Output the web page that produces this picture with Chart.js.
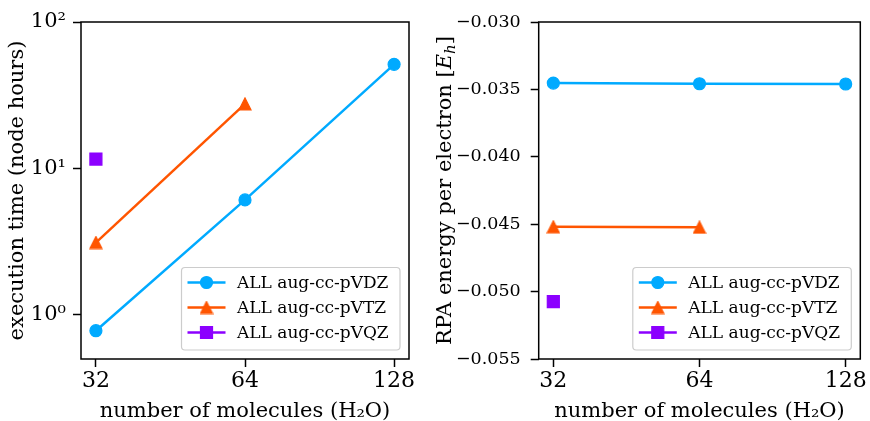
<!DOCTYPE html>
<html><head><meta charset="utf-8">
<script src="https://cdn.jsdelivr.net/npm/chart.js@4/dist/chart.umd.min.js"></script>
<style>
html,body{margin:0;padding:0;background:#fff;}
#wrap{position:relative;width:870px;height:421px;overflow:hidden;}
.box{position:absolute;top:0;width:435px;height:421px;}
canvas{display:block;}
</style></head><body>
<div id="wrap">
  <div class="box" style="left:0"><canvas id="c1" width="435" height="421"></canvas></div>
  <div class="box" style="left:435px"><canvas id="c2" width="435" height="421"></canvas></div>
</div>
<script>
// ---- data ----
const molecules = [32, 64, 128];
const seriesLabels = ['ALL aug-cc-pVDZ', 'ALL aug-cc-pVTZ', 'ALL aug-cc-pVQZ'];
const timeVDZ = [0.78, 6.1, 51.4];
const timeVTZ = [3.12, 27.6];
const timeVQZ = [11.6];
const energyVDZ = [-0.03453, -0.03458, -0.03460];
const energyVTZ = [-0.04519, -0.04523];
const energyVQZ = [-0.05075];
const xTickValues = [32, 64, 128];
const xTickLabels = ['32', '64', '128'];
const timeTickValues = [1, 10, 100];
const timeTickLabels = ['10\u2070', '10\u00b9', '10\u00b2'];
const energyTickValues = [-0.055, -0.050, -0.045, -0.040, -0.035, -0.030];
const energyTickLabels = ['\u22120.055', '\u22120.050', '\u22120.045', '\u22120.040', '\u22120.035', '\u22120.030'];

// ---- styles ----
const colors = ['#00aaff', '#ff5500', '#8c00ff'];
const FONT = 'DejaVu Serif';
const TICK_SIZE = 22, TITLE_SIZE = 21, LEGEND_SIZE = 17;

function triCanvas(color) {
  const s = 14;
  const c = document.createElement('canvas');
  c.width = s; c.height = s;
  const g = c.getContext('2d');
  g.fillStyle = color; g.strokeStyle = color; g.lineWidth = 1.2; g.lineJoin = 'miter';
  g.beginPath(); g.moveTo(s / 2, 1); g.lineTo(s - 1, s - 1); g.lineTo(1, s - 1); g.closePath();
  g.fill(); g.stroke();
  return c;
}
const markerStyles = [
  { pointStyle: 'circle', pointRadius: 6 },
  { pointStyle: triCanvas(colors[1]), pointRadius: 7 },
  { pointStyle: 'rect', pointRadius: 8.5 }
];

function makeDataset(i, ys) {
  return {
    label: seriesLabels[i],
    data: ys.map((y, k) => ({ x: molecules[k], y: y })),
    borderColor: colors[i],
    backgroundColor: colors[i],
    borderWidth: 2.5,
    pointStyle: markerStyles[i].pointStyle,
    pointRadius: markerStyles[i].pointRadius,
    pointHoverRadius: markerStyles[i].pointRadius,
    pointBorderWidth: 1.2,
    pointBackgroundColor: colors[i],
    pointBorderColor: colors[i],
    showLine: true,
    tension: 0,
    fill: false,
    order: i
  };
}

function drawMarker(ctx, ds, x, y) {
  const st = ds.pointStyle, r = ds.pointRadius;
  ctx.save();
  ctx.fillStyle = ds.backgroundColor; ctx.strokeStyle = ds.borderColor; ctx.lineWidth = 1.2;
  if (typeof st === 'object') {
    ctx.drawImage(st, x - st.width / 2, y - st.height / 2);
  } else if (st === 'rect') {
    const h = r * Math.SQRT1_2;
    ctx.beginPath(); ctx.rect(x - h, y - h, 2 * h, 2 * h); ctx.fill(); ctx.stroke();
  } else {
    ctx.beginPath(); ctx.arc(x, y, r, 0, Math.PI * 2); ctx.fill(); ctx.stroke();
  }
  ctx.restore();
}

const framePlugin = {
  id: 'mplFrame',
  afterDatasetsDraw(chart) {
    const { ctx, chartArea: a } = chart;
    ctx.save();
    ctx.strokeStyle = '#000'; ctx.lineWidth = 1.5;
    ctx.strokeRect(a.left, a.top, a.right - a.left, a.bottom - a.top);
    // legend
    const w = 218.5, h = 82.5;
    const x0 = a.right - 9 - w, y0 = a.bottom - 9 - h;
    ctx.beginPath();
    ctx.roundRect(x0, y0, w, h, 3.5);
    ctx.fillStyle = 'rgba(255,255,255,0.8)'; ctx.fill();
    ctx.strokeStyle = '#cccccc'; ctx.lineWidth = 1.2; ctx.stroke();
    chart.data.datasets.forEach((ds, i) => {
      const cy = y0 + 15 + i * 25;
      ctx.beginPath();
      ctx.strokeStyle = ds.borderColor; ctx.lineWidth = ds.borderWidth;
      ctx.moveTo(x0 + 6, cy); ctx.lineTo(x0 + 44, cy); ctx.stroke();
      drawMarker(ctx, ds, x0 + 25, cy);
      ctx.fillStyle = '#000';
      ctx.font = LEGEND_SIZE + 'px "' + FONT + '"';
      ctx.textBaseline = 'middle'; ctx.textAlign = 'left';
      ctx.fillText(ds.label, x0 + 55.5, cy + 1);
    });
    ctx.restore();
  }
};

const energyTitlePlugin = {
  id: 'energyTitle',
  afterDraw(chart) {
    const { ctx, chartArea: a } = chart;
    const f = TITLE_SIZE + 'px "' + FONT + '"';
    const segs = [
      { t: 'RPA energy per electron ', f: f, dy: 0 },
      { t: '[', f: f, dy: 0 },
      { t: 'E', f: 'italic ' + f, dy: 0 },
      { t: 'h', f: 'italic 15px "' + FONT + '"', dy: 4 },
      { t: ']', f: f, dy: 0 }
    ];
    ctx.save();
    let total = 0;
    segs.forEach(s => { ctx.font = s.f; s.w = ctx.measureText(s.t).width; total += s.w; });
    ctx.translate(15.5, (a.top + a.bottom) / 2);
    ctx.rotate(-Math.PI / 2);
    ctx.fillStyle = '#000'; ctx.textBaseline = 'alphabetic'; ctx.textAlign = 'left';
    let x = -total / 2;
    segs.forEach(s => { ctx.font = s.f; ctx.fillText(s.t, x, s.dy); x += s.w; });
    ctx.restore();
  }
};

const gridOpts = { display: true, drawOnChartArea: false, drawTicks: true, tickLength: 8, tickColor: '#000', tickWidth: 1.5 };

function xScale() {
  return {
    type: 'logarithmic',
    min: Math.pow(2, 4.9),
    max: Math.pow(2, 7.1),
    afterBuildTicks: s => { s.ticks = xTickValues.map(v => ({ value: v })); },
    afterFit: s => { s.height = 62; s.paddingLeft = 0; s.paddingRight = 0; },
    grid: gridOpts,
    border: { display: false },
    ticks: { color: '#000', font: { family: FONT, size: TICK_SIZE }, padding: 1, maxRotation: 0, minRotation: 0, autoSkip: false,
      callback: v => xTickLabels[xTickValues.indexOf(v)] },
    title: { display: true, text: 'number of molecules (H\u2082O)', color: '#000', font: { family: FONT, size: TITLE_SIZE }, padding: { top: 0, bottom: -3 } }
  };
}

const common = {
  responsive: false,
  animation: false,
  events: [],
  devicePixelRatio: 1,
  plugins: { legend: { display: false }, tooltip: { enabled: false } }
};

new Chart(document.getElementById('c1'), {
  type: 'line',
  data: { datasets: [makeDataset(0, timeVDZ), makeDataset(1, timeVTZ), makeDataset(2, timeVQZ)] },
  options: Object.assign({}, common, {
    layout: { padding: { left: 0, top: 22, right: 26, bottom: 0 } },
    scales: {
      x: xScale(),
      y: {
        type: 'logarithmic', min: 0.5, max: 100,
        afterBuildTicks: s => { s.ticks = timeTickValues.map(v => ({ value: v })); },
        afterFit: s => { s.width = 81; s.paddingTop = 0; s.paddingBottom = 0; },
        grid: gridOpts,
        border: { display: false },
        ticks: { color: '#000', font: { family: FONT, size: 21 }, padding: 7, autoSkip: false,
          callback: v => timeTickLabels[timeTickValues.indexOf(v)] },
        title: { display: true, text: 'execution time (node hours)', color: '#000', font: { family: FONT, size: TITLE_SIZE }, padding: { top: 5, bottom: 0 } }
      }
    }
  }),
  plugins: [framePlugin]
});

new Chart(document.getElementById('c2'), {
  type: 'line',
  data: { datasets: [makeDataset(0, energyVDZ), makeDataset(1, energyVTZ), makeDataset(2, energyVQZ)] },
  options: Object.assign({}, common, {
    layout: { padding: { left: 0, top: 22, right: 3.3, bottom: 0 } },
    scales: {
      x: xScale(),
      y: {
        type: 'linear', min: -0.055, max: -0.030,
        afterBuildTicks: s => { s.ticks = energyTickValues.map(v => ({ value: v })); },
        afterFit: s => { s.width = 103.7; s.paddingTop = 0; s.paddingBottom = 0; },
        grid: gridOpts,
        border: { display: false },
        ticks: { color: '#000', font: { family: FONT, size: 17.5 }, padding: 10, autoSkip: false,
          callback: v => energyTickLabels[energyTickValues.findIndex(t => Math.abs(t - v) < 1e-9)] },
        title: { display: false }
      }
    }
  }),
  plugins: [framePlugin, energyTitlePlugin]
});
</script>
</body></html>
